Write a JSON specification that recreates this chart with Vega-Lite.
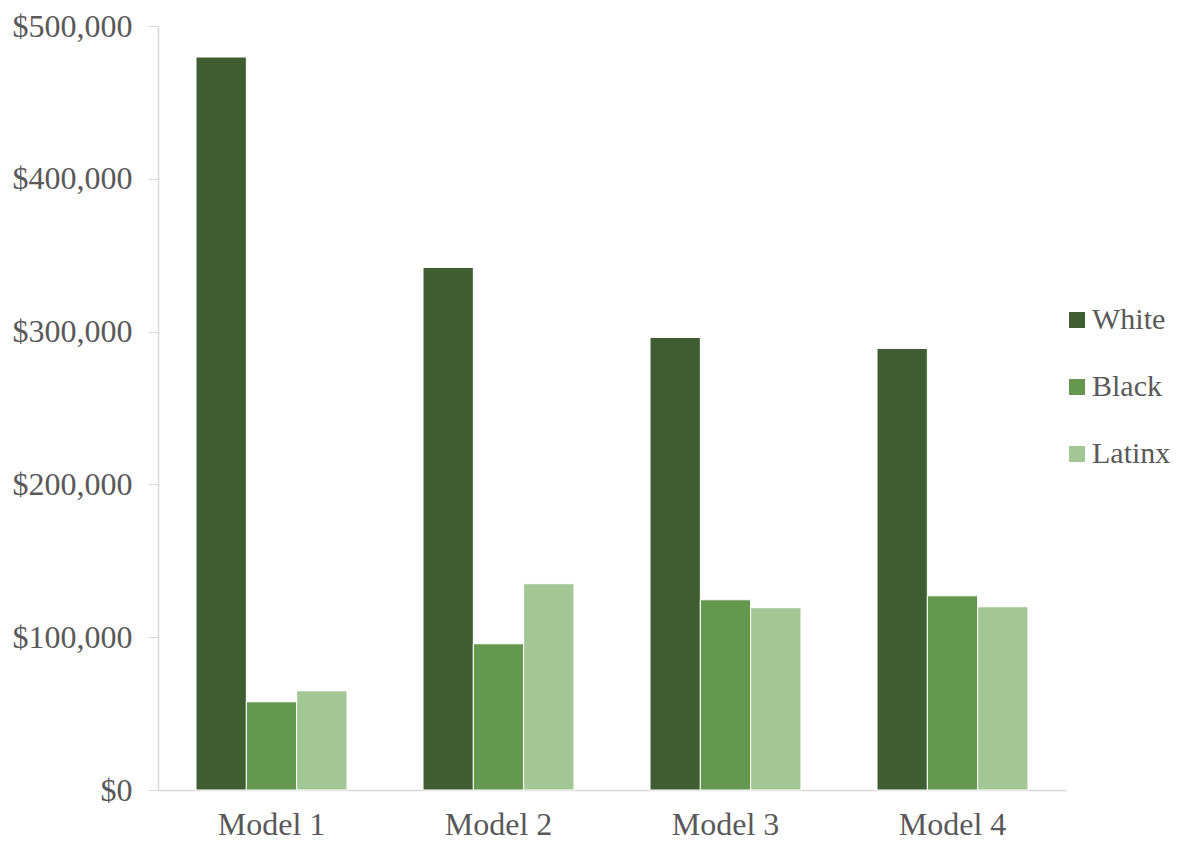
{
  "$schema": "https://vega.github.io/schema/vega-lite/v6.json",
  "width": 908,
  "height": 764,
  "autosize": {"type": "none"},
  "padding": {"left": 158, "top": 26, "right": 113, "bottom": 52},
  "background": "white",
  "config": {
    "view": {"stroke": null},
    "font": "Liberation Serif"
  },
  "data": {
    "values": [
      {"model": "Model 1", "group": "White", "value": 479700},
      {"model": "Model 1", "group": "Black", "value": 57700},
      {"model": "Model 1", "group": "Latinx", "value": 64900},
      {"model": "Model 2", "group": "White", "value": 342000},
      {"model": "Model 2", "group": "Black", "value": 95700},
      {"model": "Model 2", "group": "Latinx", "value": 135000},
      {"model": "Model 3", "group": "White", "value": 296200},
      {"model": "Model 3", "group": "Black", "value": 124500},
      {"model": "Model 3", "group": "Latinx", "value": 119300},
      {"model": "Model 4", "group": "White", "value": 289000},
      {"model": "Model 4", "group": "Black", "value": 127100},
      {"model": "Model 4", "group": "Latinx", "value": 119900}
    ]
  },
  "mark": {"type": "bar", "stroke": "white", "strokeWidth": 1},
  "encoding": {
    "x": {
      "field": "model",
      "type": "nominal",
      "title": null,
      "scale": {"paddingInner": 0.335, "paddingOuter": 0.1675},
      "axis": {
        "labelAngle": 0,
        "labelFontSize": 32,
        "labelColor": "#595959",
        "labelPadding": 19,
        "ticks": false,
        "domainColor": "#D9D9D9",
        "domainWidth": 1.5
      }
    },
    "xOffset": {
      "field": "group",
      "type": "nominal",
      "sort": ["White", "Black", "Latinx"],
      "scale": {"paddingInner": 0, "paddingOuter": 0}
    },
    "y": {
      "field": "value",
      "type": "quantitative",
      "title": null,
      "scale": {"domain": [0, 500000], "nice": false},
      "axis": {
        "values": [0, 100000, 200000, 300000, 400000, 500000],
        "format": "$,.0f",
        "grid": false,
        "labelFontSize": 32,
        "labelColor": "#595959",
        "labelPadding": 16,
        "tickSize": 10,
        "tickColor": "#D9D9D9",
        "domainColor": "#D9D9D9",
        "domainWidth": 1.5
      }
    },
    "color": {
      "field": "group",
      "type": "nominal",
      "sort": ["White", "Black", "Latinx"],
      "scale": {
        "domain": ["White", "Black", "Latinx"],
        "range": ["#3E5E32", "#64984F", "#A3C794"]
      },
      "legend": {
        "title": null,
        "orient": "none",
        "legendX": 904,
        "legendY": 279,
        "symbolType": "square",
        "symbolSize": 256,
        "symbolStrokeWidth": 0,
        "labelFontSize": 30,
        "labelColor": "#595959",
        "labelOffset": 0,
        "rowPadding": 37
      }
    }
  }
}
